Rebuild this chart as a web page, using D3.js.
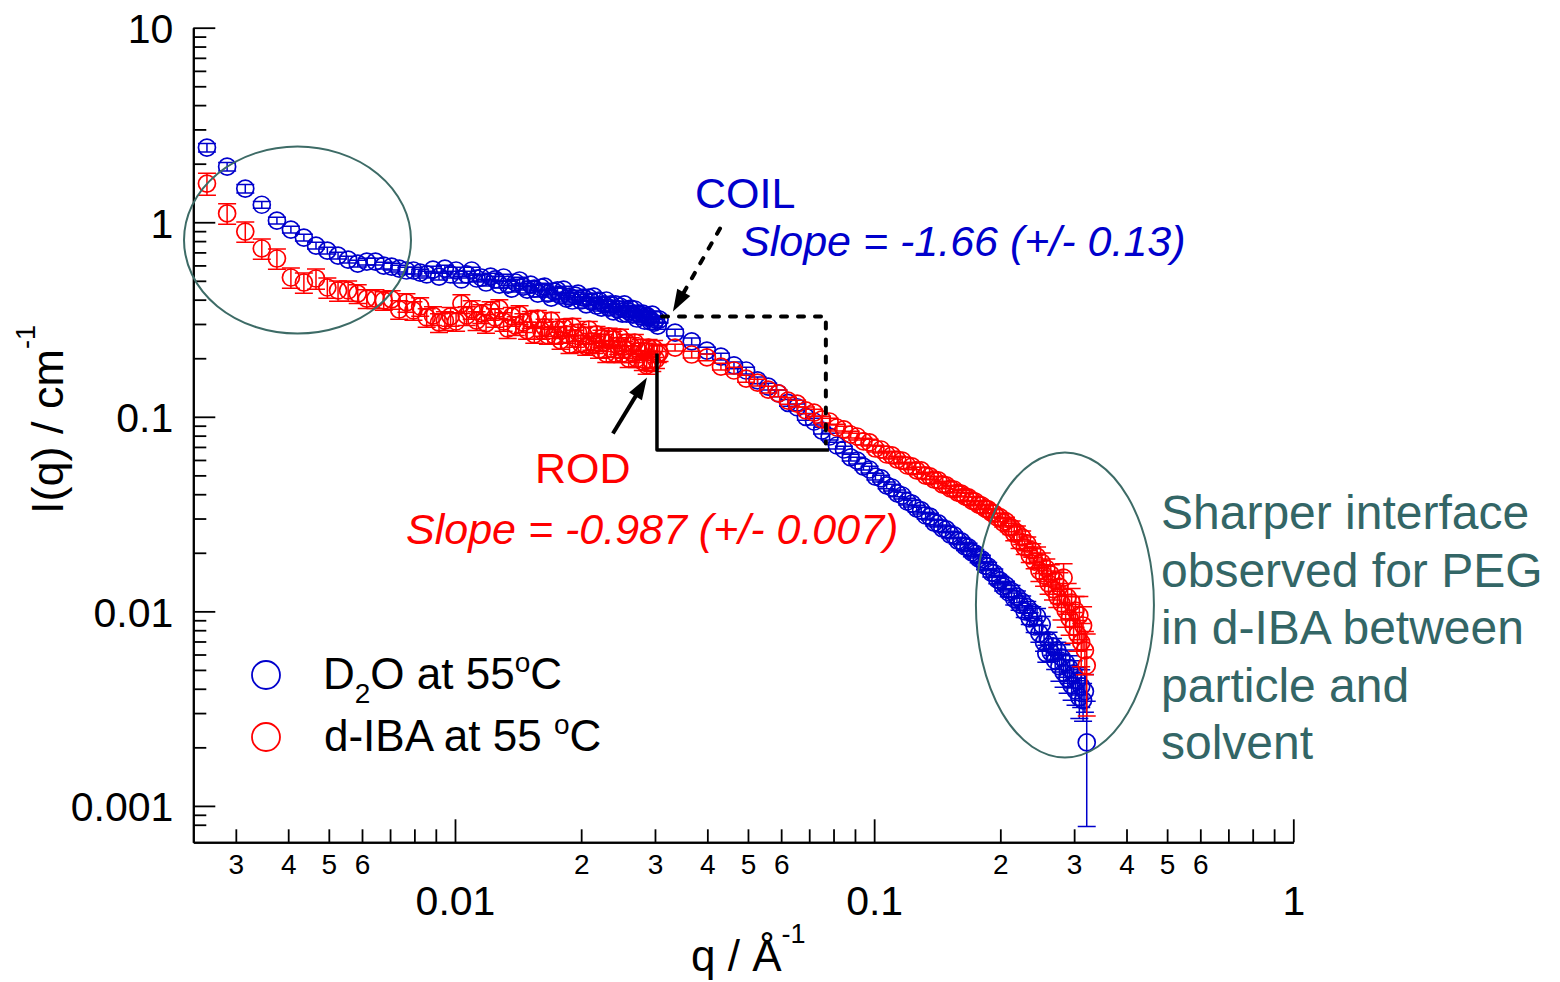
<!DOCTYPE html>
<html>
<head>
<meta charset="utf-8">
<script src="https://cdn.jsdelivr.net/npm/d3@7"></script>
<style>
  html, body { margin: 0; padding: 0; background: #fff; }
  svg { display: block; }
</style>
</head>
<body>
<svg id="chart" width="1560" height="982"></svg>
<script>
// ---- SANS scattering data: q (1/Å) and I(q) (1/cm) ----
// Low-q detector setting (shared q grid for both samples)
const qLow = [
  0.00256,0.00286,0.00316,0.00346,0.00376,0.00406,0.00436,0.00466,0.00496,0.00526,
  0.00556,0.00586,0.00616,0.00646,0.00676,0.00706,0.00736,0.00766,0.00796,0.00826,
  0.00856,0.00886,0.00916,0.00946,0.00976,0.01006,0.01036,0.01066,0.01096,0.01126,
  0.01156,0.01186,0.01216,0.01246,0.01276,0.01306,0.01336,0.01366,0.01396,0.01426,
  0.01456,0.01486,0.01516,0.01546,0.01576,0.01606,0.01636,0.01666,0.01696,0.01726,
  0.01756,0.01786,0.01816,0.01846,0.01876,0.01906,0.01936,0.01966,0.01996,0.02026,
  0.02056,0.02086,0.02116,0.02146,0.02176,0.02206,0.02236,0.02266,0.02296,0.02326,
  0.02356,0.02386,0.02416,0.02446,0.02476,0.02506,0.02536,0.02566,0.02596,0.02626,
  0.02656,0.02686,0.02716,0.02746,0.02776,0.02806,0.02836,0.02866,0.02896,0.02926,
  0.02956,0.02986,0.03016,0.03046,0.03076
];
// High-q detector setting
const qHigh = [
  0.0335,0.0367,0.0399,0.0431,0.0463,0.0495,0.0527,0.0559,0.0591,0.0623,
  0.0655,0.0687,0.0719,0.0751,0.0783,0.0815,0.0847,0.0879,0.0911,0.0943,
  0.0975,0.1007,0.1039,0.1071,0.1103,0.1135,0.1167,0.1199,0.1231,0.1263,
  0.1295,0.1327,0.1359,0.1391,0.1423,0.1455,0.1487,0.1519,0.1551,0.1583,
  0.1615,0.1647,0.1679,0.1711,0.1743,0.1775,0.1807,0.1839,0.1871,0.1903,
  0.1935,0.1967,0.1999,0.2031,0.2063,0.2095,0.2127,0.2159,0.2191,0.2223,
  0.2255,0.2287,0.2319,0.2351,0.2383,0.2415,0.2447,0.2479,0.2511,0.2543,
  0.2575,0.2607,0.2639,0.2671,0.2703,0.2735,0.2767,0.2799,0.2831,0.2863,
  0.2895,0.2927,0.2959,0.2991,0.3023,0.3055,0.3087,0.3119,0.3151,0.3183,
  0.3215
];

// D2O at 55 °C
const d2oLow = [
  2.42,1.93,1.49,1.23,1.02,0.917,0.834,0.759,0.715,0.674,
  0.643,0.613,0.628,0.628,0.599,0.592,0.578,0.565,0.565,0.551,
  0.539,0.571,0.526,0.578,0.539,0.565,0.508,0.539,0.565,0.514,
  0.520,0.490,0.526,0.508,0.478,0.520,0.478,0.456,0.490,0.502,
  0.467,0.451,0.478,0.456,0.430,0.462,0.467,0.430,0.410,0.440,
  0.446,0.420,0.451,0.405,0.415,0.396,0.420,0.430,0.396,0.410,
  0.378,0.410,0.391,0.415,0.373,0.396,0.364,0.378,0.396,0.364,
  0.378,0.348,0.378,0.356,0.369,0.339,0.378,0.339,0.348,0.360,
  0.335,0.356,0.320,0.339,0.328,0.339,0.312,0.331,0.324,0.309,
  0.335,0.305,0.316,0.294,0.316
];
const d2oHigh = [
  0.271,0.244,0.219,0.204,0.184,0.173,0.154,0.143,0.132,0.118,
  0.112,0.100,0.0946,0.0850,0.0792,0.0712,0.0679,0.0618,0.0596,0.0555,
  0.0536,0.0493,0.0482,0.0444,0.0433,0.0404,0.0394,0.0367,0.0358,0.0338,
  0.0330,0.0311,0.0307,0.0286,0.0283,0.0267,0.0264,0.0248,0.0246,0.0231,
  0.0229,0.0216,0.0213,0.0201,0.0198,0.0187,0.0185,0.0172,0.0170,0.0158,
  0.0157,0.0146,0.0144,0.0134,0.0136,0.0125,0.0127,0.0116,0.0119,0.0109,
  0.0112,0.00999,0.0105,0.00920,0.00987,0.00836,0.00941,0.00770,0.00856,0.00692,
  0.00608,0.00709,0.00615,0.00660,0.00559,0.00630,0.00521,0.00580,0.00485,0.00546,
  0.00452,0.00509,0.00416,0.00480,0.00392,0.00442,0.00361,0.00411,0.00349,0.00388,
  0.00212
];
// relative uncertainties, %
const d2oLowErr = [
  5,5,5,4,4,4,4,4,4,4, 4,4,4,4,4,4,4,4,4,4, 4,4,4,4,4,4,4,4,4,4,
  4,4,4,4,4,4,4,4,4,4, 4,4,4,4,4,4,4,4,4,4, 4,4,4,4,4,4,4,4,4,4,
  4,4,4,4,4,4,4,4,4,4, 4,4,4,4,4,4,4,4,4,4, 4,4,4,4,4,4,4,4,4,4,
  4,4,4,4,4
];
const d2oHighErr = [
  4,4,4,4,4,4,4,4,4,4, 4,4,4,4,4,4,4,4,4,4, 4,4,4,4,4,4,4,4,4,4,
  4,4,4,4,4,4,4,4,4,4, 4,5,5,5,5,5,5,5,5,5, 5,5,5,5,5,5,7,7,7,7,
  7,7,7,7,7,7,10,10,10,10, 10,10,10,10,10,10,16,16,16,16,
  16,16,16,16,16,16,22,22,22,22, 63
];

// d-IBA at 55 °C
const ibaLow = [
  1.58,1.11,0.896,0.733,0.651,0.520,0.490,0.514,0.462,0.446,
  0.446,0.430,0.405,0.405,0.396,0.401,0.356,0.387,0.352,0.369,
  0.324,0.331,0.305,0.312,0.328,0.309,0.382,0.331,0.356,0.312,
  0.339,0.302,0.352,0.324,0.360,0.309,0.284,0.328,0.294,0.335,
  0.305,0.278,0.316,0.265,0.320,0.278,0.288,0.262,0.312,0.262,
  0.281,0.247,0.288,0.265,0.235,0.291,0.253,0.271,0.238,0.262,
  0.230,0.281,0.244,0.235,0.265,0.222,0.253,0.241,0.211,0.259,
  0.224,0.250,0.211,0.232,0.256,0.211,0.222,0.241,0.199,0.232,
  0.211,0.241,0.199,0.217,0.227,0.192,0.217,0.184,0.227,0.197,
  0.190,0.224,0.197,0.211,0.214
];
const ibaHigh = [
  0.227,0.209,0.202,0.181,0.173,0.157,0.150,0.138,0.132,0.121,
  0.117,0.108,0.105,0.0969,0.0946,0.0881,0.0861,0.0811,0.0792,0.0747,
  0.0738,0.0687,0.0679,0.0640,0.0633,0.0603,0.0596,0.0562,0.0556,0.0530,
  0.0530,0.0499,0.0494,0.0476,0.0471,0.0449,0.0444,0.0428,0.0423,0.0408,
  0.0403,0.0390,0.0385,0.0371,0.0367,0.0354,0.0350,0.0338,0.0334,0.0322,
  0.0318,0.0304,0.0304,0.0286,0.0290,0.0270,0.0270,0.0251,0.0254,0.0229,
  0.0240,0.0213,0.0223,0.0194,0.0206,0.0180,0.0191,0.0162,0.0178,0.0153,
  0.0166,0.0139,0.0155,0.0130,0.0144,0.0119,0.0134,0.0110,0.0149,0.0101,
  0.0118,0.00920,0.0111,0.00836,0.0101,0.00761,0.00953,0.00692,0.00846,0.00630,
  0.00527
];
const ibaLowErr = [
  13,12,12,12,12,12,12,12,12,12, 12,11,11,11,11,11,11,11,11,11,
  11,11,11,11,11,11,11,11,11,11, 11,11,11,11,11,11,11,11,11,11,
  11,10,10,10,10,10,10,10,10,10, 10,10,10,10,10,10,10,10,10,10,
  10,10,10,10,10,10,10,10,10,10, 10,10,10,10,10,10,10,10,10,10,
  10,10,10,10,10,10,10,10,10,10, 10,10,10,10,10
];
const ibaHighErr = [
  4,4,4,4,4,4,4,4,4,4, 4,4,4,4,4,4,4,4,4,4, 4,4,4,4,4,4,4,4,4,4,
  4,4,4,4,4,4,4,4,4,4, 4,5,5,5,5,5,5,5,5,5, 5,5,5,5,5,5,8,8,8,8,
  8,8,8,8,8,8,12,12,12,12, 12,12,12,12,12,12,18,18,18,18,
  18,18,18,18,18,18,25,25,25,25, 45
];

// Axis ticks and labels
const yMajorTicks = [0.001, 0.01, 0.1, 1, 10];
const yTickLabels = ['0.001', '0.01', '0.1', '1', '10'];
const xMajorTicks = [0.01, 0.1, 1];
const xTickLabels = ['0.01', '0.1', '1'];
const minorSteps = [2, 3, 4, 5, 6, 7, 8, 9];
const xMinorLabelled = [2, 3, 4, 5, 6];

// ---- drawing ----
const FONT = '"Liberation Sans", Arial, Helvetica, sans-serif';
const BLUE = '#0000cc';
const RED = '#ff0000';
const TEAL = '#336666';

const svg = d3.select('#chart').style('font-family', FONT);
svg.append('rect').attr('width', 1560).attr('height', 982).attr('fill', '#fff');

const x = d3.scaleLog().domain([0.002375, 1]).range([193.3, 1293.3]);
const y = d3.scaleLog().domain([0.00065, 10]).range([842.3, 27.7]);

const [x0] = x.range();
const [yb] = y.range();

function minorTicks(scale, decades) {
  const [lo, hi] = scale.domain();
  const out = [];
  decades.forEach(d => minorSteps.forEach(m => {
    const v = d * m;
    if (v > lo && v < hi) out.push(v);
  }));
  return out;
}

// Y axis (ticks pointing inward)
const yMinor = minorTicks(y, [0.0001, 0.001, 0.01, 0.1, 1])
  .filter(v => yb - y(v) > 8);
const yAxisMinor = d3.axisLeft(y).tickValues(yMinor).tickSize(-13).tickSizeOuter(0).tickFormat('');
const yAxisMajor = d3.axisLeft(y).tickValues(yMajorTicks).tickSize(-22).tickSizeOuter(0)
  .tickPadding(16).tickFormat((d, i) => yTickLabels[i]);

const gy = svg.append('g').attr('transform', `translate(${x0},0)`);
gy.call(yAxisMinor);
gy.append('g').call(yAxisMajor);

// X axis (ticks pointing inward)
const xMinor = minorTicks(x, [0.001, 0.01, 0.1]);
const xAxisMinor = d3.axisBottom(x).tickValues(xMinor).tickSize(-13).tickSizeOuter(0)
  .tickFormat(d => {
    const m = Math.round(d / Math.pow(10, Math.floor(Math.log10(d) + 1e-9)));
    return xMinorLabelled.includes(m) ? String(m) : '';
  });
const xAxisMajor = d3.axisBottom(x).tickValues(xMajorTicks).tickSize(-23).tickSizeOuter(0)
  .tickFormat((d, i) => xTickLabels[i]);

const gx = svg.append('g').attr('transform', `translate(0,${yb})`);
gx.call(xAxisMinor);
const gxMajor = gx.append('g').call(xAxisMajor);

// axis styling
svg.selectAll('.domain').attr('stroke', '#000').attr('stroke-width', 2);
svg.selectAll('.tick line').attr('stroke', '#000').attr('stroke-width', 1.8);
gy.selectAll('.tick text')
  .attr('font-family', FONT).attr('font-size', 41).attr('fill', '#000')
  .attr('x', -20).attr('dy', '0.36em');
gx.selectAll(':scope > .tick text')
  .attr('font-family', FONT).attr('font-size', 28).attr('fill', '#000')
  .attr('y', 31.7).attr('dy', 0);
gxMajor.selectAll('.tick text')
  .attr('font-family', FONT).attr('font-size', 41).attr('fill', '#000')
  .attr('y', 72.7).attr('dy', 0);

// Axis titles
const xTitle = svg.append('text').attr('x', 691).attr('y', 971)
  .attr('font-size', 44).attr('fill', '#000');
xTitle.append('tspan').text('q / Å');
xTitle.append('tspan').attr('font-size', 27).attr('dy', -28).text('-1');

const yTitle = svg.append('text').attr('transform', 'translate(63,514) rotate(-90)')
  .attr('font-size', 45).attr('fill', '#000');
yTitle.append('tspan').text('I(q) / cm');
yTitle.append('tspan').attr('font-size', 27).attr('dy', -28).text('-1');

// ---- data series with error bars ----
const CAP = 9;
function drawSeries(qArr, iArr, errArr, color) {
  const pts = qArr.map((q, i) => ({ q, I: iArr[i], e: iArr[i] * errArr[i] / 100 }));
  const g = svg.append('g');
  g.selectAll('path').data(pts).join('path')
    .attr('d', d => {
      const px = x(d.q);
      const yt1 = y(d.I + d.e);
      const yb1 = y(Math.max(d.I - d.e, 1e-6));
      return `M${px},${yt1}V${yb1}M${px - CAP},${yt1}H${px + CAP}M${px - CAP},${yb1}H${px + CAP}`;
    })
    .attr('fill', 'none').attr('stroke', color).attr('stroke-width', 1.5);
  g.selectAll('circle').data(pts).join('circle')
    .attr('cx', d => x(d.q)).attr('cy', d => y(d.I)).attr('r', 8.5)
    .attr('fill', 'none').attr('stroke', color).attr('stroke-width', 1.7);
}
drawSeries(qLow, d2oLow, d2oLowErr, BLUE);
drawSeries(qHigh, d2oHigh, d2oHighErr, BLUE);
drawSeries(qLow, ibaLow, ibaLowErr, RED);
drawSeries(qHigh, ibaHigh, ibaHighErr, RED);

// ---- guide ellipses ----
function ellipse(qc, ic, rx, ry) {
  svg.append('ellipse').attr('cx', x(qc)).attr('cy', y(ic)).attr('rx', rx).attr('ry', ry)
    .attr('fill', 'none').attr('stroke', '#3d6b66').attr('stroke-width', 2);
}
ellipse(0.00421, 0.810, 113.5, 93.5);
ellipse(0.2852, 0.01079, 89, 152.5);

// ---- slope triangles ----
// coil (dotted)
svg.append('path')
  .attr('d', `M${x(0.03118)},${y(0.328)}H${x(0.0767)}V${y(0.0729)}`)
  .attr('fill', 'none').attr('stroke', '#000').attr('stroke-width', 4)
  .attr('stroke-dasharray', '6,11').attr('stroke-linecap', 'round');
// rod (solid)
svg.append('path')
  .attr('d', `M${x(0.03033)},${y(0.2115)}V${y(0.0675)}H${x(0.0780)}`)
  .attr('fill', 'none').attr('stroke', '#000').attr('stroke-width', 3.5)
  .attr('stroke-linejoin', 'round');

// ---- arrows ----
function arrow(qa, ia, qb, ib, dashed) {
  const ax = x(qa), ay = y(ia), bx = x(qb), by = y(ib);
  const dx = bx - ax, dy = by - ay, len = Math.hypot(dx, dy);
  const ux = dx / len, uy = dy / len;
  const hl = 22, hw = 7.5;
  const hx = bx - ux * hl, hy = by - uy * hl;
  const ln = svg.append('line').attr('x1', ax).attr('y1', ay).attr('x2', hx + ux * 2).attr('y2', hy + uy * 2)
    .attr('stroke', '#000').attr('stroke-width', 4);
  if (dashed) ln.attr('stroke-dasharray', '6,11').attr('stroke-linecap', 'round');
  svg.append('path')
    .attr('d', `M${bx},${by}L${hx - uy * hw},${hy + ux * hw}L${hx + uy * hw},${hy - ux * hw}Z`)
    .attr('fill', '#000');
}
arrow(0.04288, 0.928, 0.03311, 0.3476, true);
arrow(0.02381, 0.0821, 0.02871, 0.1592, false);

// ---- annotations ----
svg.append('text').attr('x', 695).attr('y', 208).attr('font-size', 43).attr('fill', BLUE).text('COIL');
svg.append('text').attr('x', 741).attr('y', 256).attr('font-size', 43).attr('font-style', 'italic')
  .attr('fill', BLUE).text('Slope = -1.66 (+/- 0.13)');
svg.append('text').attr('x', 535).attr('y', 483).attr('font-size', 43).attr('fill', RED).text('ROD');
svg.append('text').attr('x', 406).attr('y', 544).attr('font-size', 43).attr('font-style', 'italic')
  .attr('fill', RED).text('Slope = -0.987 (+/- 0.007)');

const noteLines = ['Sharper interface', 'observed for PEG', 'in d-IBA between', 'particle and', 'solvent'];
svg.append('g').selectAll('text').data(noteLines).join('text')
  .attr('x', 1161).attr('y', (d, i) => 529 + i * 57.5)
  .attr('font-size', 48).attr('fill', TEAL).text(d => d);

// ---- legend ----
const legend = svg.append('g');
[BLUE, RED].forEach((c, i) => {
  legend.append('circle').attr('cx', 266).attr('cy', 675 + i * 62).attr('r', 14)
    .attr('fill', 'none').attr('stroke', c).attr('stroke-width', 1.8);
});
const l1 = legend.append('text').attr('x', 323).attr('y', 689).attr('font-size', 44).attr('fill', '#000');
l1.append('tspan').text('D');
l1.append('tspan').attr('font-size', 28).attr('dy', 14).text('2');
l1.append('tspan').attr('dy', -14).text('O at 55');
l1.append('tspan').attr('font-size', 28).attr('dy', -17).text('o');
l1.append('tspan').attr('dy', 17).text('C');
const l2 = legend.append('text').attr('x', 324).attr('y', 751).attr('font-size', 44).attr('fill', '#000');
l2.append('tspan').text('d-IBA at 55 ');
l2.append('tspan').attr('font-size', 28).attr('dy', -17).text('o');
l2.append('tspan').attr('dy', 17).text('C');
</script>
</body>
</html>
